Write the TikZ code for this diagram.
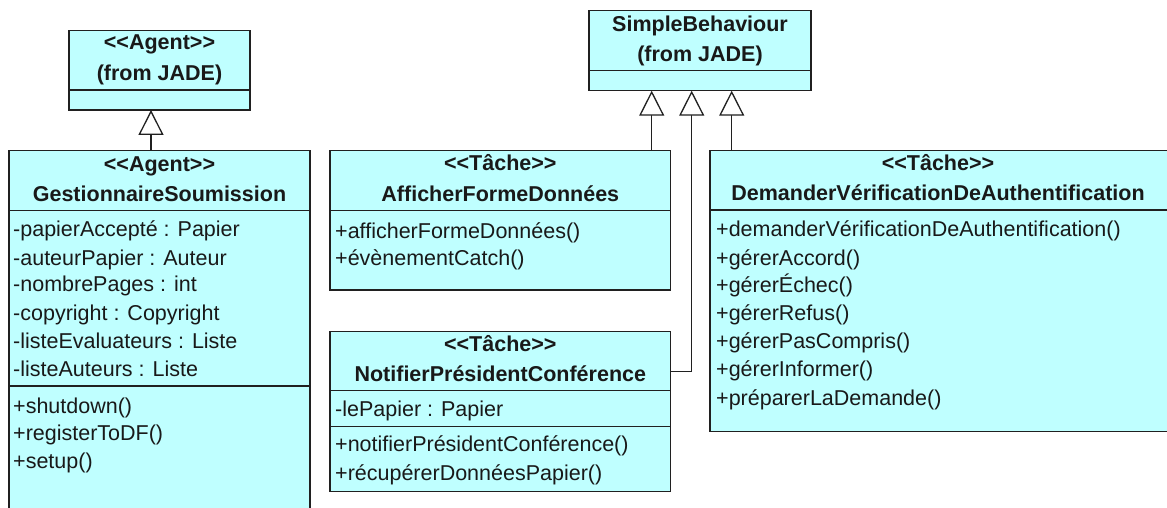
\documentclass[tikz,border=0pt]{standalone}
\usepackage{fontspec}
\setmainfont{Liberation Sans}
\usetikzlibrary{arrows.meta}
\definecolor{clsfill}{HTML}{BFFFFF}
\definecolor{linec}{HTML}{202020}
\newcommand{\regfont}{\fontsize{21.5}{26}\selectfont}
\newcommand{\boldfont}{\fontsize{21.5}{26}\selectfont\bfseries}
% stereotype in plain angle brackets (kerns stop the << >> ligature)
\newcommand{\stereo}[1]{<\kern0pt<#1>\kern0pt>}
\tikzset{
  cls/.style={draw=linec, fill=clsfill, line width=1.3pt, inner sep=0pt, outer sep=0pt, anchor=north west},
  member/.style={inner sep=0pt, anchor=base west, font=\regfont, text=black!90},
  ttl/.style={inner sep=0pt, anchor=base, font=\boldfont, text=black!90},
  sepline/.style={draw=linec, line width=1.3pt},
  inherit/.style={draw=linec, line width=1.3pt,
    -{Triangle[open, length=25pt, width=25pt, fill=white, line width=1.3pt]}}
}
\begin{document}
\begin{tikzpicture}[x=1pt, y=-1pt]
\useasboundingbox (0,0) rectangle (1167,508);
\clip (0,0) rectangle (1167,508);

% ---- <<Agent>> (from JADE)
\node[cls, minimum width=181pt, minimum height=79.3pt] (agent) at (69,30.7) {};
\path[sepline] (69,90) -- (250,90);
\node[ttl] (agentst) at (159.5,50) {\stereo{Agent}};
\node[ttl] (agentfrom) at (159.5,81) {(from JADE)};

% ---- SimpleBehaviour (from JADE)
\node[cls, minimum width=222pt, minimum height=80pt] (simple) at (589,10.7) {};
\path[sepline] (589,70.7) -- (811,70.7);
\node[ttl] (simplename) at (700,31.7) {SimpleBehaviour};
\node[ttl] (simplefrom) at (700,61.7) {(from JADE)};

% ---- GestionnaireSoumission
\node[cls, minimum width=301pt, minimum height=370pt] (gest) at (9,150.7) {};
\path[sepline] (9,210.7) -- (310,210.7);
\path[sepline] (9,386) -- (310,386);
\node[ttl] (gestst) at (159.5,171.7) {\stereo{Agent}};
\node[ttl] (gestname) at (159.5,201.7) {GestionnaireSoumission};
\node[member] (g1) at (13,236.7) {-papierAccepté : Papier};
\node[member] (g2) at (13,265) {-auteurPapier : Auteur};
\node[member] (g3) at (13,291.7) {-nombrePages : int};
\node[member] (g4) at (13,320) {-copyright : Copyright};
\node[member] (g5) at (13,348.3) {-listeEvaluateurs : Liste};
\node[member] (g6) at (13,376.7) {-listeAuteurs : Liste};
\node[member] (g7) at (13,413.3) {+shutdown()};
\node[member] (g8) at (13,440.7) {+registerToDF()};
\node[member] (g9) at (13,468.3) {+setup()};

% ---- AfficherFormeDonnées
\node[cls, minimum width=340.7pt, minimum height=139.3pt] (aff) at (330,150.7) {};
\path[sepline] (330,210.7) -- (670.7,210.7);
\node[ttl] (affst) at (500.3,170) {\stereo{Tâche}};
\node[ttl] (affname) at (500.3,201.7) {AfficherFormeDonnées};
\node[member] (a1) at (335,238.3) {+afficherFormeDonnées()};
\node[member] (a2) at (335,265.7) {+évènementCatch()};

% ---- NotifierPrésidentConférence
\node[cls, minimum width=340.7pt, minimum height=160pt] (notif) at (330,331.7) {};
\path[sepline] (330,390.7) -- (670.7,390.7);
\path[sepline] (330,426.7) -- (670.7,426.7);
\node[ttl] (notifst) at (500.3,351.7) {\stereo{Tâche}};
\node[ttl] (notifname) at (500.3,381.7) {NotifierPrésidentConférence};
\node[member] (n1) at (335,416.7) {-lePapier : Papier};
\node[member] (n2) at (335,451.7) {+notifierPrésidentConférence()};
\node[member] (n3) at (335,480) {+récupérerDonnéesPapier()};

% ---- DemanderVérificationDeAuthentification
\node[cls, minimum width=460pt, minimum height=281pt] (dem) at (710,150.7) {};
\path[sepline] (710,210) -- (1170,210);
\node[ttl] (demst) at (938,170) {\stereo{Tâche}};
\node[ttl] (demname) at (938,200.7) {DemanderVérificationDeAuthentification};
\node[member] (d1) at (716,236.7) {+demanderVérificationDeAuthentification()};
\node[member] (d2) at (716,265) {+gérerAccord()};
\node[member] (d3) at (716,292.7) {+gérerÉchec()};
\node[member] (d4) at (716,320) {+gérerRefus()};
\node[member] (d5) at (716,348.3) {+gérerPasCompris()};
\node[member] (d6) at (716,376.7) {+gérerInformer()};
\node[member] (d7) at (716,405) {+préparerLaDemande()};

% ---- generalisations
\coordinate (tagent) at (151,110);
\coordinate (taff) at (651.7,90.7);
\coordinate (tnotif) at (691.7,90.7);
\coordinate (tdem) at (731.7,90.7);
\coordinate (nout) at (670.7,371.7);

\draw[inherit] (tagent |- gest.north) -- (tagent);
\draw[inherit] (taff |- aff.north) -- (taff);
\draw[inherit] (nout) -| (tnotif);
\draw[inherit] (tdem |- dem.north) -- (tdem);
\end{tikzpicture}
\end{document}
